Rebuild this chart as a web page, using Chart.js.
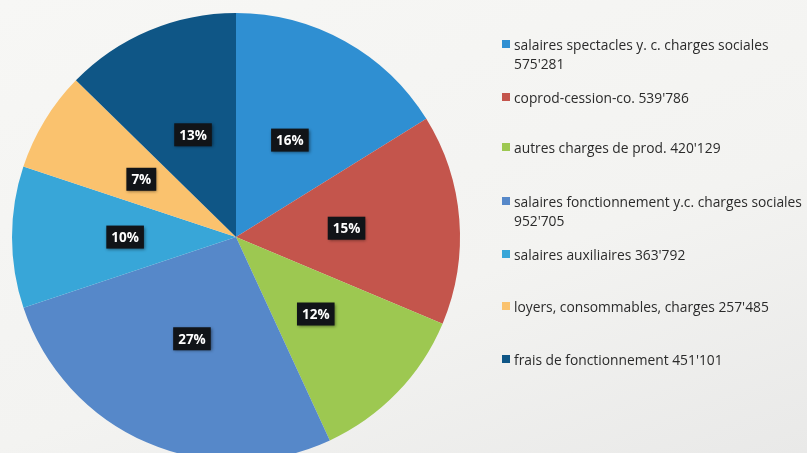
<!DOCTYPE html>
<html>
<head>
<meta charset="utf-8">
<script src="https://cdn.jsdelivr.net/npm/chart.js@4/dist/chart.umd.min.js"></script>
<style>
  html, body { margin: 0; padding: 0; width: 807px; height: 453px; overflow: hidden; }
  body { background: linear-gradient(160deg, #f7f7f5 0%, #f3f3f1 60%, #e9e9e8 100%); font-family: "Open Sans", "Noto Sans", sans-serif; }
  #wrap { position: absolute; left: 0; top: 0; width: 472px; height: 474px; }
  #legend { position: absolute; left: 0; top: 0; width: 807px; height: 453px; pointer-events: none; }
  .item { position: absolute; left: 502px; font-size: 13.8px; line-height: 19px; color: #2b2b2b; white-space: nowrap; }
  .item .sw { position: absolute; left: 0; top: 5px; width: 8px; height: 8px; }
  .item .tx { margin-left: 12px; display: block; }
</style>
</head>
<body>
<div id="wrap"><canvas id="pie"></canvas></div>
<div id="legend"></div>
<script>
// postes de charges
var categories = [
  "salaires spectacles y. c. charges sociales",
  "coprod-cession-co.",
  "autres charges de prod.",
  "salaires fonctionnement y.c. charges sociales",
  "salaires auxiliaires",
  "loyers, consommables, charges",
  "frais de fonctionnement"
];
var montants = [575281, 539786, 420129, 952705, 363792, 257485, 451101];
var couleurs = ["#2f8fd2", "#c4554c", "#9dc851", "#5688c9", "#38a6d8", "#fac26e", "#0f5686"];
// legend: which items wrap the value onto a second line, and their top y
var retour = [true, false, false, true, false, false, false];
var legendTop = [35, 88, 138, 192, 245, 297, 350];

function fmt(n) {
  return String(n).replace(/\B(?=(\d{3})+(?!\d))/g, "'");
}

// boxes with percentage inside slices
var pctLabels = {
  id: 'pctLabels',
  afterDatasetsDraw: function (chart) {
    var ctx = chart.ctx;
    var meta = chart.getDatasetMeta(0);
    var data = chart.data.datasets[0].data;
    var total = data.reduce(function (a, b) { return a + b; }, 0);
    ctx.save();
    ctx.font = "bold 13.5px 'Open Sans', sans-serif";
    ctx.textAlign = 'center';
    ctx.textBaseline = 'middle';
    meta.data.forEach(function (arc, i) {
      var mid = (arc.startAngle + arc.endAngle) / 2;
      var d = arc.outerRadius * 0.495;
      var x = arc.x + Math.cos(mid) * d;
      var y = arc.y + Math.sin(mid) * d;
      var txt = Math.round(data[i] / total * 100) + '%';
      var w = ctx.measureText(txt).width + 10;
      var h = 23;
      ctx.shadowColor = 'rgba(0,0,0,0.45)';
      ctx.shadowBlur = 3;
      ctx.shadowOffsetX = 1;
      ctx.shadowOffsetY = 1;
      ctx.fillStyle = '#111418';
      ctx.fillRect(x - w / 2, y - h / 2, w, h);
      ctx.shadowColor = 'transparent';
      ctx.fillStyle = '#ffffff';
      ctx.fillText(txt, x, y + 1);
    });
    ctx.restore();
  }
};

var chart = new Chart(document.getElementById('pie'), {
  type: 'pie',
  data: {
    labels: categories,
    datasets: [{
      data: montants,
      backgroundColor: couleurs,
      borderWidth: 0
    }]
  },
  options: {
    responsive: true,
    maintainAspectRatio: false,
    animation: false,
    layout: { padding: 12 },
    plugins: {
      legend: { display: false },
      tooltip: { enabled: false }
    }
  },
  plugins: [pctLabels]
});

// legend on the right
var leg = document.getElementById('legend');
categories.forEach(function (c, i) {
  var el = document.createElement('div');
  el.className = 'item';
  el.style.top = legendTop[i] + 'px';
  var sw = document.createElement('span');
  sw.className = 'sw';
  sw.style.background = couleurs[i];
  var tx = document.createElement('span');
  tx.className = 'tx';
  if (retour[i]) {
    tx.innerHTML = c + '<br>' + fmt(montants[i]);
  } else {
    tx.textContent = c + ' ' + fmt(montants[i]);
  }
  el.appendChild(sw);
  el.appendChild(tx);
  leg.appendChild(el);
});
</script>
</body>
</html>
